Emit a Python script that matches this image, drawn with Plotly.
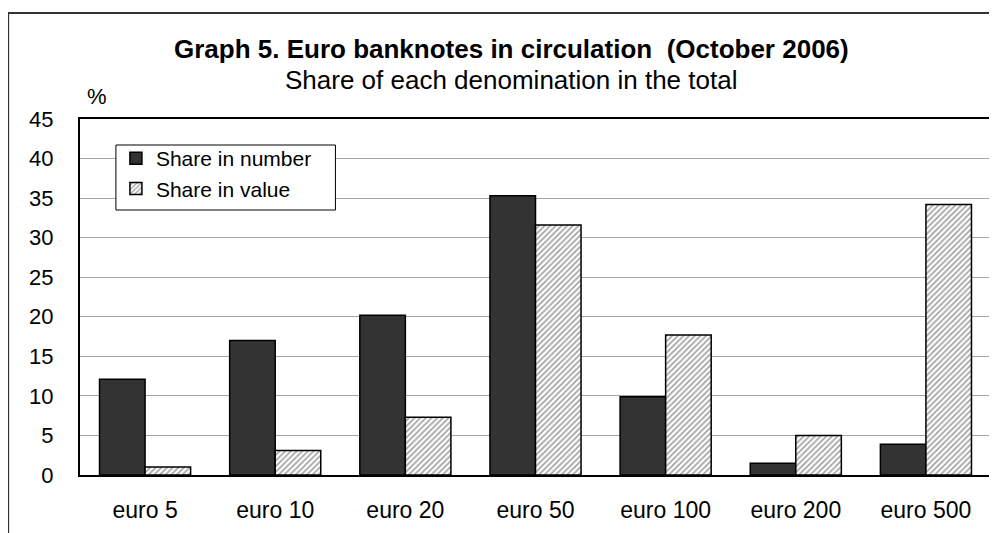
import plotly.graph_objects as go

categories = ["euro 5", "euro 10", "euro 20", "euro 50", "euro 100", "euro 200", "euro 500"]
share_number = [12.1, 17.0, 20.2, 35.3, 9.9, 1.5, 3.9]
share_value = [1.0, 3.1, 7.3, 31.6, 17.7, 5.0, 34.2]
series_names = ["Share in number", "Share in value"]
y_ticks = [0, 5, 10, 15, 20, 25, 30, 35, 40, 45]

# page has an 8px body margin; work in page coordinates and convert
OFF = 8
W, H = 997 - OFF, 533 - OFF
L, R, T, B = 80 - OFF, 997 - 993, 119 - OFF, 533 - 475
pw, ph = W - L - R, H - T - B

def px(x):
    return (x - OFF - L) / pw

def py(y):
    return (H - B - (y - OFF)) / ph

FONT = "Liberation Sans, Arial, sans-serif"
PAD = "\u00a0\u00a0"

fig = go.Figure()
fig.add_trace(go.Bar(
    x=categories, y=share_number, name=series_names[0] + PAD,
    marker=dict(color="#333333", line=dict(color="black", width=1.5)),
))
fig.add_trace(go.Bar(
    x=categories, y=share_value, name=series_names[1] + PAD,
    marker=dict(color="white", line=dict(color="black", width=1.5),
                pattern=dict(shape="/", fgcolor="#4a4a4a", bgcolor="white",
                             size=4, solidity=0.45)),
))

fig.update_layout(
    width=W, height=H,
    margin=dict(l=L, r=R, t=T, b=B),
    paper_bgcolor="white", plot_bgcolor="white",
    barmode="group", bargap=0.30, bargroupgap=0,
    font=dict(family=FONT, size=22, color="black"),
    showlegend=True,
    legend=dict(x=px(116), y=py(138), xanchor="left", yanchor="top",
                borderwidth=0, bgcolor="rgba(0,0,0,0)",
                font=dict(size=21, family=FONT), itemwidth=30,
                tracegroupgap=0),
    xaxis=dict(showline=True, linecolor="black", linewidth=2, mirror=True,
               ticks="", ticklabelstandoff=13, tickfont=dict(size=23)),
    yaxis=dict(range=[0, 45], tickvals=y_ticks, showline=True, linecolor="black",
               linewidth=2, mirror=True, showgrid=True, gridcolor="#a6a6a6",
               gridwidth=1, ticks="", ticklabelstandoff=20,
               tickfont=dict(size=22), zeroline=False),
    annotations=[
        dict(text="<b>Graph 5. Euro banknotes in circulation  (October 2006)</b>",
             x=px(512), y=py(49), xref="paper", yref="paper", showarrow=False,
             font=dict(size=26, family=FONT), xanchor="center", yanchor="middle"),
        dict(text="Share of each denomination in the total",
             x=px(512), y=py(80), xref="paper", yref="paper", showarrow=False,
             font=dict(size=26, family=FONT), xanchor="center", yanchor="middle"),
        dict(text="%", x=px(97), y=py(97), xref="paper", yref="paper",
             showarrow=False, font=dict(size=22, family=FONT),
             xanchor="center", yanchor="middle"),
    ],
    shapes=[
        dict(type="rect", xref="paper", yref="paper",
             x0=px(8), x1=px(1010), y0=py(560), y1=py(13),
             line=dict(color="#333333", width=2), layer="below"),
        dict(type="rect", xref="paper", yref="paper",
             x0=px(116), x1=px(336), y0=py(210), y1=py(145),
             line=dict(color="black", width=1), fillcolor="white",
             layer="above"),
    ],
)

fig.write_html("out.html")
